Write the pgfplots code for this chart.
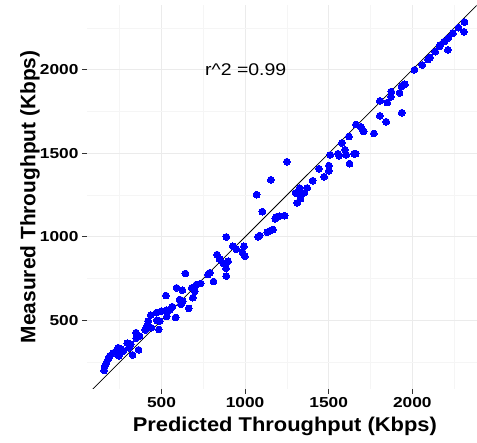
\documentclass[border=0pt]{standalone}
\usepackage{fontspec}
\setmainfont{Liberation Sans}
\usepackage{graphicx}
\usepackage{pgfplots}
\pgfplotsset{compat=1.18}
\usepackage{pgfplotstable}

\definecolor{gridmaj}{HTML}{EBEBEB}
\definecolor{gridmin}{HTML}{F5F5F5}
\definecolor{pt}{HTML}{0000FF}

% predicted vs measured (Kbps)
\pgfplotstableread{
x y
2312 2286
2309 2227
2276 2252
2243 2219
2216 2191
2192 2169
2167 2149
2163 2139
2213 2119
2137 2109
2106 2074
2094 2062
2059 2029
2013 2000
1956 1913
1936 1901
1924 1862
1874 1870
1873 1838
1850 1804
1806 1814
1937 1743
1806 1725
1844 1689
1770 1619
1663 1673
1691 1659
1701 1643
1709 1631
1621 1601
1579 1562
1597 1522
1555 1498
1561 1486
1510 1491
1605 1491
1651 1498
1661 1498
1625 1438
1501 1427
1442 1408
1501 1396
1473 1360
1404 1336
1250 1450
1154 1342
1371 1293
1326 1293
1302 1263
1322 1257
1353 1263
1332 1229
1311 1203
1069 1253
1103 1151
1187 1120
1203 1123
1237 1127
1181 1108
1167 1044
1147 1036
1133 1028
1087 1008
1077 1000
888 1000
926 944
948 926
993 944
984 908
999 884
832 894
848 866
898 854
870 842
886 812
888 765
789 785
778 775
811 733
643 781
735 721
709 715
681 695
590 695
625 681
699 675
687 636
526 649
609 625
627 615
617 596
565 582
663 572
530 562
500 556
550 563
470 546
532 524
585 518
436 532
472 500
420 496
490 496
412 466
440 456
484 446
403 443
348 427
369 406
349 394
296 364
317 357
305 337
363 324
327 294
241 337
261 327
271 317
231 318
211 305
245 288
191 288
181 267
171 246
161 225
157 201
}\meas

\begin{document}
\begin{tikzpicture}
\begin{axis}[
  scale only axis,
  width=390bp, height=384bp,
  xmin=54, xmax=2384, ymin=92, ymax=2388,
  axis line style={draw=none},
  xtick={500,1000,1500,2000},
  ytick={500,1000,1500,2000},
  minor xtick={250,750,1250,1750,2250},
  minor ytick={250,750,1250,1750,2250},
  xtick pos=lower, ytick pos=left,
  tick align=outside,
  major tick length=5bp, minor tick length=0pt,
  tick style={black!80, line width=0.8pt},
  grid=both,
  major grid style={gridmaj, line width=1pt},
  minor grid style={gridmin, line width=0.6pt},
  /pgf/number format/assume math mode=true,
  /pgf/number format/1000 sep={},
  ticklabel style={font=\fontsize{14.5}{16}\selectfont\bfseries},
  xticklabel={\scalebox{1.2}[1]{\pgfmathprintnumber{\tick}}},
  yticklabel={\scalebox{1.2}[1]{\pgfmathprintnumber{\tick}}},
  xlabel={\scalebox{1.1}[1]{Predicted Throughput (Kbps)}},
  ylabel={Measured Throughput (Kbps)},
  xlabel style={font=\fontsize{20}{22}\selectfont\bfseries,
    at={(axis description cs:0.508,-0.099)}, anchor=center},
  ylabel style={font=\fontsize{21}{23}\selectfont\bfseries,
    at={(axis description cs:-0.146,0.5)}, anchor=center},
]
\addplot[black, line width=0.75pt] coordinates {(0,0) (2500,2500)};
\addplot[only marks, mark=*, mark size=3.4bp, color=pt, mark options={draw=pt, fill=pt, line width=0pt}] table[x=x, y=y] {\meas};
\node[font=\fontsize{17}{19}\selectfont, anchor=center] at (axis cs:1004,2000) {\scalebox{1.15}[1]{r\^{}2 =0.99}};
\coordinate (pll) at (rel axis cs:0,0);
\coordinate (pur) at (rel axis cs:1,1);
\end{axis}
\path ([xshift=-87bp,yshift=-54bp]pll) rectangle ([yshift=5bp]pur);
\end{tikzpicture}
\end{document}
